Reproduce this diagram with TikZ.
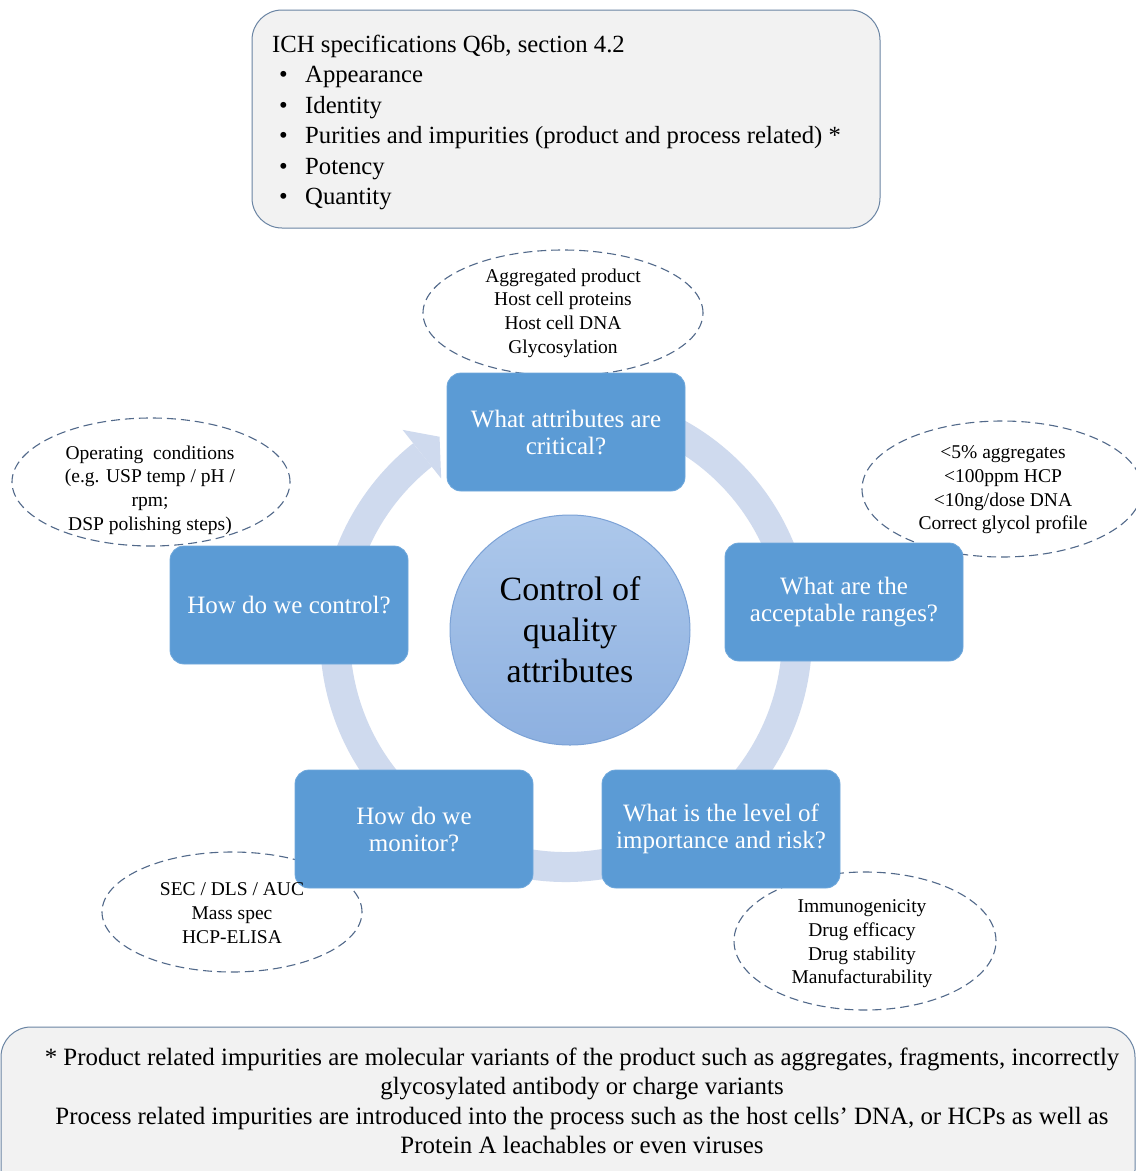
\documentclass[tikz,border=0pt]{standalone}
\usepackage{fontspec}
\setmainfont{Liberation Serif}
\usetikzlibrary{calc,shapes.geometric}
\definecolor{boxblue}{HTML}{5B9BD5}
\definecolor{boxedge}{HTML}{6FA8DC}
\definecolor{ringcol}{HTML}{CFDAEE}
\definecolor{dashcol}{HTML}{52698A}
\definecolor{notebg}{HTML}{F2F2F2}
\definecolor{noteline}{HTML}{6A84A3}
\definecolor{circtop}{HTML}{ADC8EB}
\definecolor{circbot}{HTML}{8DB0E0}
\definecolor{circline}{HTML}{7CA2D6}
\begin{document}
\begin{tikzpicture}[x=1pt,y=-1pt,
  qbox/.style={draw=boxedge, fill=boxblue, rounded corners=14pt, line width=0.8pt,
    minimum width=238pt, minimum height=118pt, inner sep=0pt, text=white,
    align=center, font=\fontsize{25}{27}\selectfont},
  dashell/.style={ellipse, draw=dashcol, line width=1.1pt, dash pattern=on 9pt off 5pt, inner sep=0pt},
  elltext/.style={align=center, inner sep=0pt, text=black, font=\fontsize{19.5}{23.7}\selectfont},
  notebox/.style={draw=noteline, fill=notebg, rounded corners=30pt, line width=1pt}
]
\useasboundingbox (0,0) rectangle (1136,1171);
\fill[white] (0,0) rectangle (1136,1171);

% top specification box
\draw[notebox] (252,10) rectangle (880,228);
\node[anchor=north west, inner sep=0pt, align=left, font=\fontsize{24.7}{30.4}\selectfont] (spec) at (272,35)
 {ICH specifications Q6b, section 4.2\\
  \makebox[33pt][l]{\hspace{7pt}•}Appearance\\
  \makebox[33pt][l]{\hspace{7pt}•}Identity\\
  \makebox[33pt][l]{\hspace{7pt}•}Purities and impurities (product and process related) *\\
  \makebox[33pt][l]{\hspace{7pt}•}Potency\\
  \makebox[33pt][l]{\hspace{7pt}•}Quantity};

% ring with arrowhead
\coordinate (rc) at (566,636);
\draw[ringcol, line width=30pt] ($(rc)+(260:231)$) arc[start angle=260, end angle=591.6, radius=231];
\fill[ringcol] ($(rc)+(231.6:201)$) -- ($(rc)+(231.6:263)$) -- ($(rc)+(237.6:236)$) -- cycle;

% dashed ellipses (behind boxes)
\node[dashell, minimum width=280pt, minimum height=126pt] (etop) at (563,313) {};
\node[dashell, minimum width=280pt, minimum height=136pt] (eright) at (1002,489) {};
\node[dashell, minimum width=278pt, minimum height=128pt] (eleft) at (151,482) {};
\node[dashell, minimum width=260pt, minimum height=120pt] (ebl) at (232,912) {};
\node[dashell, minimum width=262pt, minimum height=138pt] (ebr) at (865,941) {};

% question boxes
\node[qbox] (q1) at (566,432) {What attributes are\\critical?};
\node[qbox] (q2) at (844,602) {What are the\\acceptable ranges?};
\node[qbox] (q3) at (721,829) {What is the level of\\importance and risk?};
\node[qbox] (q4) at (414,829) {How do we\\monitor?};
\node[qbox] (q5) at (289,605) {How do we control?};

% ellipse texts (over the boxes)
\node[elltext] (ttop) at (563,313) {Aggregated product\\Host cell proteins\\Host cell DNA\\Glycosylation};
\node[elltext] (tright) at (1003,490) {<5\% aggregates\\<100ppm HCP\\<10ng/dose DNA\\Correct glycol profile};
\node[elltext] (tleft) at (150,490) {Operating\ \ conditions\\(e.g. USP temp / pH /\\rpm;\\DSP polishing steps)};
\node[elltext] (tbl) at (232,913) {SEC / DLS / AUC\\Mass spec\\HCP-ELISA};
\node[elltext] (tbr) at (862,944) {Immunogenicity\\Drug efficacy\\Drug stability\\Manufacturability};

% centre
\node[ellipse, draw=circline, line width=1pt, top color=circtop, bottom color=circbot,
  minimum width=240pt, minimum height=230pt, inner sep=0pt, align=center,
  font=\fontsize{34}{41}\selectfont] (core) at (570,630) {Control of\\quality\\attributes};

% bottom note box
\draw[notebox] (1,1027) rectangle (1135,1200);
\node[align=center, inner sep=0pt, font=\fontsize{24.9}{28.5}\selectfont] (note) at (582,1101)
 {* Product related impurities are molecular variants of the product such as aggregates, fragments, incorrectly\\
  glycosylated antibody or charge variants\\[2pt]
  Process related impurities are introduced into the process such as the host cells’ DNA, or HCPs as well as\\
  Protein A leachables or even viruses};
\end{tikzpicture}
\end{document}
